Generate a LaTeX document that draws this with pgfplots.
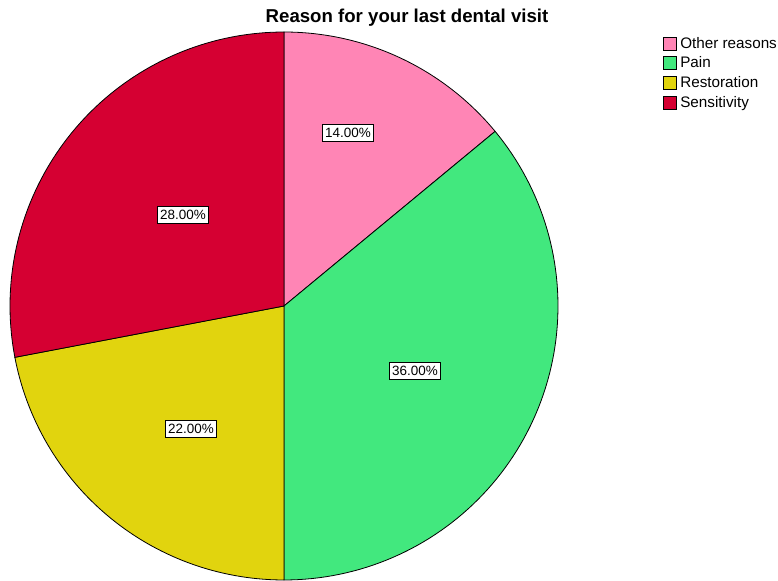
\documentclass[border=0pt]{standalone}
\usepackage{pgfplots}
\pgfplotsset{compat=1.18}
\usepackage{fontspec}
\setmainfont{Liberation Sans}
\definecolor{cOther}{RGB}{255,133,181}
\definecolor{cPain}{RGB}{66,232,126}
\definecolor{cRest}{RGB}{225,212,14}
\definecolor{cSens}{RGB}{213,0,50}
% shares in percent (clockwise from 12 o'clock)
\def\pOther{14}\def\pPain{36}\def\pRest{22}\def\pSens{28}
\begin{document}
\begin{tikzpicture}
\begin{axis}[
  hide axis, scale only axis,
  width=778bp, height=581bp,
  xmin=0, xmax=778, ymin=0, ymax=581,
  clip=false,
  legend image code/.code={\draw[#1, draw=black, line width=0.6bp] (0bp,-6.5bp) rectangle (13bp,6.5bp);},
  legend style={at={(axis cs:660,547)}, anchor=north west, draw=none, fill=none,
    font=\fontsize{15.3}{16}\selectfont, row sep=5.2bp,
    nodes={inner sep=1bp, anchor=west},
    /tikz/every even column/.append style={column sep=0pt}},
  legend cell align=left,
]
\pgfmathsetmacro{\aA}{90-3.6*\pOther}
\pgfmathsetmacro{\aB}{\aA-3.6*\pPain}
\pgfmathsetmacro{\aC}{\aB-3.6*\pRest}
\pgfmathsetmacro{\aD}{\aC-3.6*\pSens}
\addplot[fill=cOther, draw=black, line width=0.8bp, domain=\aA:90, samples=60, variable=\t]
  ({284+274*cos(t)},{275+274*sin(t)}) -- (axis cs:284,275) -- cycle;
\addlegendentry{\hspace{2.5bp}Other reasons}
\addplot[fill=cPain, draw=black, line width=0.8bp, domain=\aB:\aA, samples=90, variable=\t]
  ({284+274*cos(t)},{275+274*sin(t)}) -- (axis cs:284,275) -- cycle;
\addlegendentry{\hspace{2.5bp}Pain}
\addplot[fill=cRest, draw=black, line width=0.8bp, domain=\aC:\aB, samples=70, variable=\t]
  ({284+274*cos(t)},{275+274*sin(t)}) -- (axis cs:284,275) -- cycle;
\addlegendentry{\hspace{2.5bp}Restoration}
\addplot[fill=cSens, draw=black, line width=0.8bp, domain=\aD:\aC, samples=80, variable=\t]
  ({284+274*cos(t)},{275+274*sin(t)}) -- (axis cs:284,275) -- cycle;
\addlegendentry{\hspace{2.5bp}Sensitivity}
\tikzset{lbl/.style={draw=black, fill=white, line width=0.8bp, inner xsep=2.5bp, inner ysep=3.5bp, font=\fontsize{13.5}{14}\selectfont}}
\node[lbl] at (axis cs:348,448) {14.00\%};
\node[lbl] at (axis cs:415,210) {36.00\%};
\node[lbl] at (axis cs:191,152) {22.00\%};
\node[lbl] at (axis cs:183,366) {28.00\%};
\node[font=\bfseries\fontsize{18.7}{20}\selectfont] at (axis cs:407,563) {Reason for your last dental visit};
\end{axis}
\pgfresetboundingbox
\path (0,0) rectangle (778bp,581bp);
\end{tikzpicture}
\end{document}
